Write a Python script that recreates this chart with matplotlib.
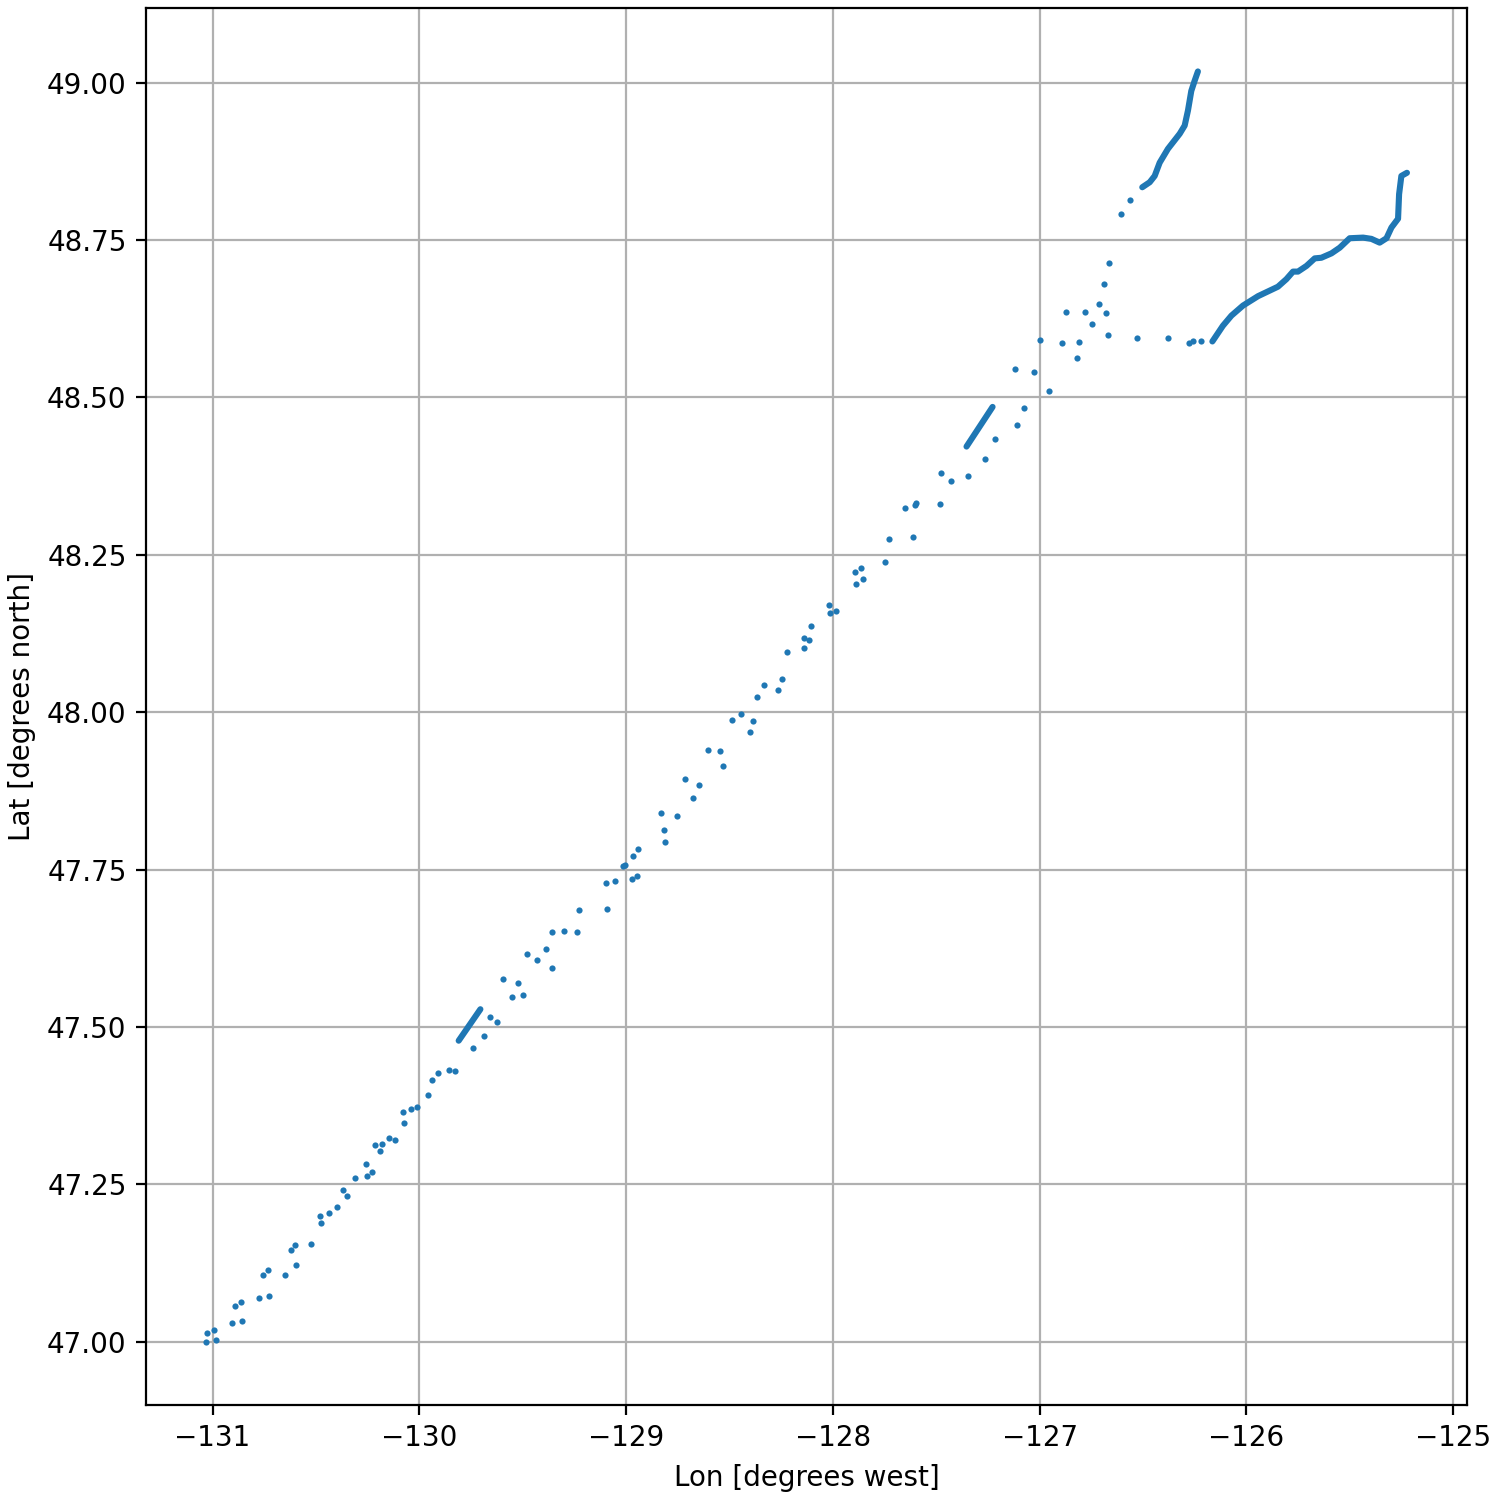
import numpy as np
import matplotlib
matplotlib.use("Agg")
import matplotlib.pyplot as plt

# Scattered position fixes (lon, lat)
lon_pts = [
    -131.032, -131.029, -130.993, -130.984, -130.905, -130.858, -130.890, -130.863,
    -130.776, -130.726, -130.755, -130.734, -130.648, -130.621, -130.600, -130.598,
    -130.526, -130.479, -130.478, -130.435, -130.398, -130.369, -130.352,
    -130.310, -130.253, -130.229, -130.256, -130.213, -130.192, -130.182, -130.147,
    -130.116, -130.076, -130.081, -130.042, -130.013, -129.960, -129.940, -129.911,
    -129.856, -129.829, -129.740, -129.686, -129.660, -129.623,
    -129.598, -129.553, -129.522, -129.498, -129.481, -129.431, -129.386, -129.358,
    -129.360, -129.301, -129.236, -129.227, -129.094, -129.097, -129.052, -129.014,
    -129.006, -128.974, -128.950, -128.965, -128.944, -128.810, -128.815, -128.833,
    -128.753, -128.716, -128.649, -128.676, -128.602, -128.544, -128.533, -128.486,
    -128.444, -128.386, -128.402, -128.366, -128.332, -128.268, -128.245, -128.223,
    -128.141, -128.142, -128.115, -128.105, -128.021, -128.013, -127.987, -127.887,
    -127.892, -127.862, -127.857, -127.746, -127.731, -127.615, -127.650, -127.602,
    -127.596, -127.484, -127.430, -127.476, -127.345, -127.265, -127.218, -127.108,
    -127.078, -127.118, -127.028, -126.955, -126.999, -126.894, -126.812, -126.818,
    -126.875, -126.781, -126.714, -126.680, -126.747, -126.670, -126.689, -126.667,
    -126.528, -126.379, -126.280, -126.259, -126.222, -126.607, -126.562,
]
lat_pts = [
    47.000, 47.014, 47.019, 47.003, 47.030, 47.033, 47.057, 47.063,
    47.069, 47.072, 47.106, 47.113, 47.105, 47.145, 47.154, 47.121,
    47.155, 47.200, 47.189, 47.204, 47.214, 47.240, 47.231,
    47.260, 47.263, 47.270, 47.282, 47.313, 47.303, 47.314, 47.323,
    47.320, 47.347, 47.364, 47.369, 47.373, 47.392, 47.416, 47.426,
    47.431, 47.430, 47.467, 47.486, 47.516, 47.508,
    47.576, 47.548, 47.570, 47.550, 47.615, 47.606, 47.624, 47.593,
    47.651, 47.652, 47.650, 47.686, 47.688, 47.729, 47.731, 47.756,
    47.757, 47.735, 47.740, 47.772, 47.783, 47.793, 47.813, 47.839,
    47.835, 47.894, 47.885, 47.863, 47.940, 47.939, 47.914, 47.987,
    47.997, 47.986, 47.969, 48.024, 48.043, 48.035, 48.052, 48.096,
    48.102, 48.118, 48.115, 48.137, 48.170, 48.158, 48.161, 48.204,
    48.222, 48.229, 48.212, 48.238, 48.275, 48.279, 48.325, 48.329,
    48.332, 48.330, 48.368, 48.380, 48.376, 48.403, 48.434, 48.456,
    48.483, 48.546, 48.541, 48.510, 48.592, 48.587, 48.588, 48.562,
    48.636, 48.636, 48.649, 48.634, 48.617, 48.600, 48.681, 48.714,
    48.595, 48.595, 48.587, 48.589, 48.590, 48.792, 48.814,
]

# Short dense runs along the main transect
run1_lon = [-129.810, -129.705]
run1_lat = [47.478, 47.528]
run2_lon = [-127.354, -127.228]
run2_lat = [48.422, 48.485]

# Northern track
trackA_lon = [-126.504, -126.468, -126.444, -126.420, -126.380, -126.323,
              -126.299, -126.283, -126.267, -126.251, -126.235]
trackA_lat = [48.834, 48.842, 48.852, 48.873, 48.895, 48.919,
              48.932, 48.956, 48.987, 49.003, 49.018]

# Eastern track
trackB_lon = [-126.165, -126.114, -126.073, -126.017, -125.944, -125.848,
              -125.807, -125.775, -125.751, -125.710, -125.670, -125.638,
              -125.589, -125.549, -125.501, -125.436, -125.396, -125.356,
              -125.323, -125.299, -125.267, -125.262, -125.251, -125.224]
trackB_lat = [48.589, 48.614, 48.630, 48.646, 48.661, 48.676,
              48.688, 48.700, 48.700, 48.709, 48.721, 48.722,
              48.729, 48.738, 48.753, 48.754, 48.752, 48.746,
              48.753, 48.770, 48.784, 48.823, 48.852, 48.857]

col = "#1f77b4"

fig, ax = plt.subplots(figsize=(7.5, 7.5), dpi=200)
fig.subplots_adjust(left=0.0973, right=0.978, bottom=0.0633, top=0.9947)

ax.scatter(lon_pts, lat_pts, s=5, color=col, linewidths=0, zorder=3)
for lo, la in [(run1_lon, run1_lat), (run2_lon, run2_lat),
               (trackA_lon, trackA_lat), (trackB_lon, trackB_lat)]:
    ax.plot(lo, la, color=col, lw=2.2, solid_capstyle="round",
            solid_joinstyle="round", zorder=3)

ax.set_xticks(np.arange(-131, -124, 1))
ax.set_yticks(np.arange(47.0, 49.01, 0.25))
ax.yaxis.set_major_formatter(matplotlib.ticker.FormatStrFormatter("%.2f"))
ax.set_xlabel("Lon [degrees west]")
ax.set_ylabel("Lat [degrees north]")
ax.grid(True)
ax.set_axisbelow(True)

fig.savefig("out.png", dpi=200)
